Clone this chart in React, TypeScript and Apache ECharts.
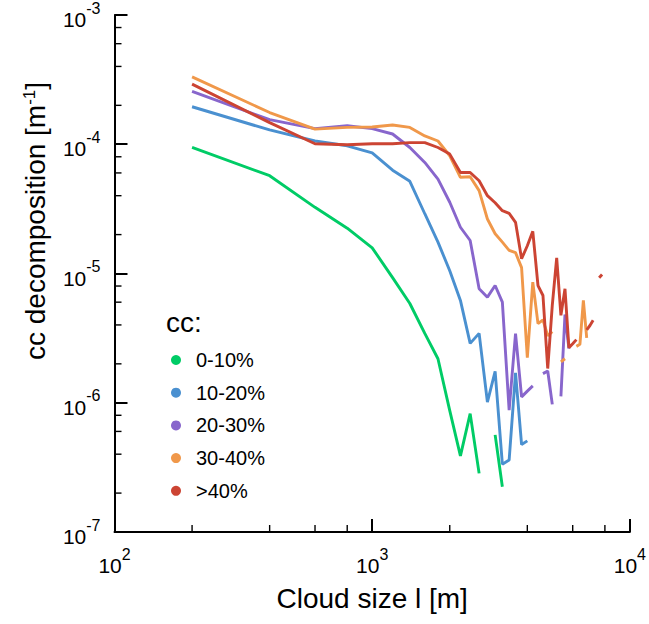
import React, { useEffect, useRef } from "react";
import * as echarts from "echarts";

const FONT = "'Liberation Sans', Arial, Helvetica, sans-serif";

// Cloud size bins [m]
const sizes = [
  200, 400, 600, 800, 1000, 1200, 1400, 1600, 1800, 2000,
  2200, 2400, 2600, 2800, 3000, 3200, 3400, 3600, 3800, 4000,
  4200, 4400, 4600, 4800, 5000, 5200, 5400, 5600, 5800, 6000,
  6200, 6400, 6600, 6800, 7000, 7200, 7400, 7600, 7800,
];

const seriesNames = ["0-10%", "10-20%", "20-30%", "30-40%", ">40%"];
const seriesColors = ["#00cc66", "#4a90d0", "#8866cc", "#f0984a", "#cc4433"];

const cc0_10 = [
  9.45e-5, 5.71e-5, 3.25e-5, 2.24e-5, 1.58e-5, 9.3e-6, 5.86e-6, 3.44e-6, 2.19e-6, 8.7e-7,
  3.88e-7, 8.24e-7, 2.84e-7, null, 5.64e-7, 2.24e-7,
];
const cc10_20 = [
  1.95e-4, 1.29e-4, 1.06e-4, 9.73e-5, 8.59e-5, 6.3e-5, 5.17e-5, 2.9e-5, 1.75e-5, 1.05e-5,
  6.19e-6, 2.88e-6, 3.44e-6, 1.01e-6, 1.75e-6, 3.35e-7, 3.6e-7, 1.7e-6, 4.75e-7, 5.07e-7,
];
const cc20_30 = [
  2.56e-4, 1.55e-4, 1.32e-4, 1.39e-4, 1.32e-4, 1.2e-4, 9.44e-5, 7.23e-5, 5.38e-5, 3.56e-5,
  2.28e-5, 1.8e-5, 7.62e-6, 6.56e-6, 8.07e-6, 6.0e-6, 8.75e-7, 3.42e-6, 1.11e-6, 1.23e-6,
  1.35e-6, null, 1.68e-6, 1.76e-6, 9.72e-7, null, 1.12e-6, 4.82e-6, 2.62e-6,
];
const cc30_40 = [
  3.32e-4, 1.76e-4, 1.31e-4, 1.35e-4, 1.36e-4, 1.41e-4, 1.35e-4, 1.16e-4, 1.06e-4, 8.15e-5,
  5.55e-5, 5.61e-5, 4.38e-5, 2.64e-5, 2.03e-5, 1.75e-5, 1.51e-5, 1.45e-5, 1.11e-5, 2.23e-6,
  8.57e-6, 4.09e-6, 4.38e-6, 3.3e-6, 3.55e-6, null, 2.07e-6, 2.19e-6, null, null,
  2.73e-6, 2.83e-6, 6.2e-6, 3.18e-6,
];
const cc40 = [
  2.92e-4, 1.47e-4, 1.01e-4, 9.91e-5, 1.01e-4, 1.01e-4, 1.03e-4, 1.03e-4, 9.44e-5, 8.39e-5,
  6.05e-5, 6.05e-5, 5.22e-5, 4.0e-5, 3.53e-5, 3.06e-5, 2.92e-5, 2.49e-5, 1.3e-5, 1.64e-5,
  2.12e-5, 8.07e-6, 6.76e-6, 1.84e-6, 5.69e-6, 1.32e-5, 4.74e-6, 7.62e-6, 2.67e-6, 2.86e-6,
  3.08e-6, null, null, 3.67e-6, 3.96e-6, 4.34e-6, null, 9.27e-6, 9.82e-6,
];

const seriesValues = [cc0_10, cc10_20, cc20_30, cc30_40, cc40];

const xMinorTicks = [200, 400, 600, 800, 2000, 4000, 6000, 8000];
const yMinorTicks = [
  2e-7, 4e-7, 6e-7, 8e-7, 2e-6, 4e-6, 6e-6, 8e-6,
  2e-5, 4e-5, 6e-5, 8e-5, 2e-4, 4e-4, 6e-4, 8e-4,
];

const xMin = 100, xMax = 10000, yMin = 1e-7, yMax = 1e-3;

const labelRich = {
  b: { fontSize: 21, fontFamily: FONT, color: "#000", lineHeight: 30, verticalAlign: "bottom" },
  s: { fontSize: 16, fontFamily: FONT, color: "#000", lineHeight: 14, verticalAlign: "top" },
};
const powFmt = (v: number) => `{b|10}{s|${Math.round(Math.log10(v))}}`;

export default function App() {
  const ref = useRef<HTMLDivElement>(null);
  useEffect(() => {
    if (!ref.current) return;
    const chart = echarts.init(ref.current, undefined, { renderer: "svg" });

    const lineSeries = seriesNames.map((name, k) => ({
      name,
      type: "line",
      color: seriesColors[k],
      showSymbol: false,
      symbol: "circle",
      connectNulls: false,
      lineStyle: { width: 2.9, color: seriesColors[k] },
      data: seriesValues[k].map((v, i) => [sizes[i], v == null ? "-" : v]),
      z: 3 + k,
    }));

    chart.setOption({
      animation: false,
      grid: { left: 114.5, right: 15.5, top: 14, bottom: 92, containLabel: false },
      xAxis: {
        type: "log",
        logBase: 10,
        min: xMin,
        max: xMax,
        name: "Cloud size l [m]",
        nameLocation: "middle",
        nameGap: 52,
        nameTextStyle: { fontSize: 28, fontFamily: FONT, color: "#000" },
        axisLine: { show: true, lineStyle: { color: "#000", width: 2 } },
        axisTick: { show: true, inside: true, length: 13, lineStyle: { color: "#000", width: 2 } },
        axisLabel: { margin: 14, formatter: powFmt, rich: labelRich, color: "#000" },
        splitLine: { show: false },
      },
      yAxis: {
        type: "log",
        logBase: 10,
        min: yMin,
        max: yMax,
        axisLine: { show: true, lineStyle: { color: "#000", width: 2 } },
        axisTick: { show: true, inside: true, length: 13, lineStyle: { color: "#000", width: 2 } },
        axisLabel: { margin: 14, formatter: powFmt, rich: labelRich, color: "#000" },
        splitLine: { show: false },
      },
      legend: {
        orient: "vertical",
        left: 166,
        top: 345,
        icon: "circle",
        itemWidth: 10,
        itemHeight: 10,
        itemGap: 12.7,
        data: seriesNames,
        textStyle: { fontSize: 20, fontFamily: FONT, color: "#000", padding: [0, 0, 0, 10] },
      },
      graphic: [
        {
          type: "text",
          x: 35,
          y: 221,
          rotation: Math.PI / 2,
          style: {
            text: "cc decomposition [m{s|-1}]",
            fontSize: 28,
            fontFamily: FONT,
            fill: "#000",
            align: "center",
            verticalAlign: "middle",
            rich: {
              s: { fontSize: 17, fontFamily: FONT, fill: "#000", verticalAlign: "top", lineHeight: 16 },
            },
          },
        },
        {
          type: "text",
          x: 166,
          y: 322.5,
          style: {
            text: "cc:",
            fontSize: 28,
            fontFamily: FONT,
            fill: "#000",
            align: "left",
            verticalAlign: "middle",
          },
        },
      ],
      series: [
        ...lineSeries,
        {
          type: "custom",
          coordinateSystem: "cartesian2d",
          silent: true,
          clip: false,
          z: 10,
          data: xMinorTicks.map((v) => [v, yMin]),
          renderItem: (params: any, api: any) => {
            const p = api.coord([api.value(0), api.value(1)]);
            return {
              type: "line",
              shape: { x1: p[0], y1: p[1], x2: p[0], y2: p[1] - 7 },
              style: { stroke: "#000", lineWidth: 1.4 },
            };
          },
        },
        {
          type: "custom",
          coordinateSystem: "cartesian2d",
          silent: true,
          clip: false,
          z: 10,
          data: yMinorTicks.map((v) => [xMin, v]),
          renderItem: (params: any, api: any) => {
            const p = api.coord([api.value(0), api.value(1)]);
            return {
              type: "line",
              shape: { x1: p[0], y1: p[1], x2: p[0] + 7, y2: p[1] },
              style: { stroke: "#000", lineWidth: 1.4 },
            };
          },
        },
      ],
    });
    return () => chart.dispose();
  }, []);

  return (
    <div
      ref={ref}
      style={{ position: "fixed", left: 0, top: 0, width: 649, height: 624, background: "#fff" }}
    />
  );
}
